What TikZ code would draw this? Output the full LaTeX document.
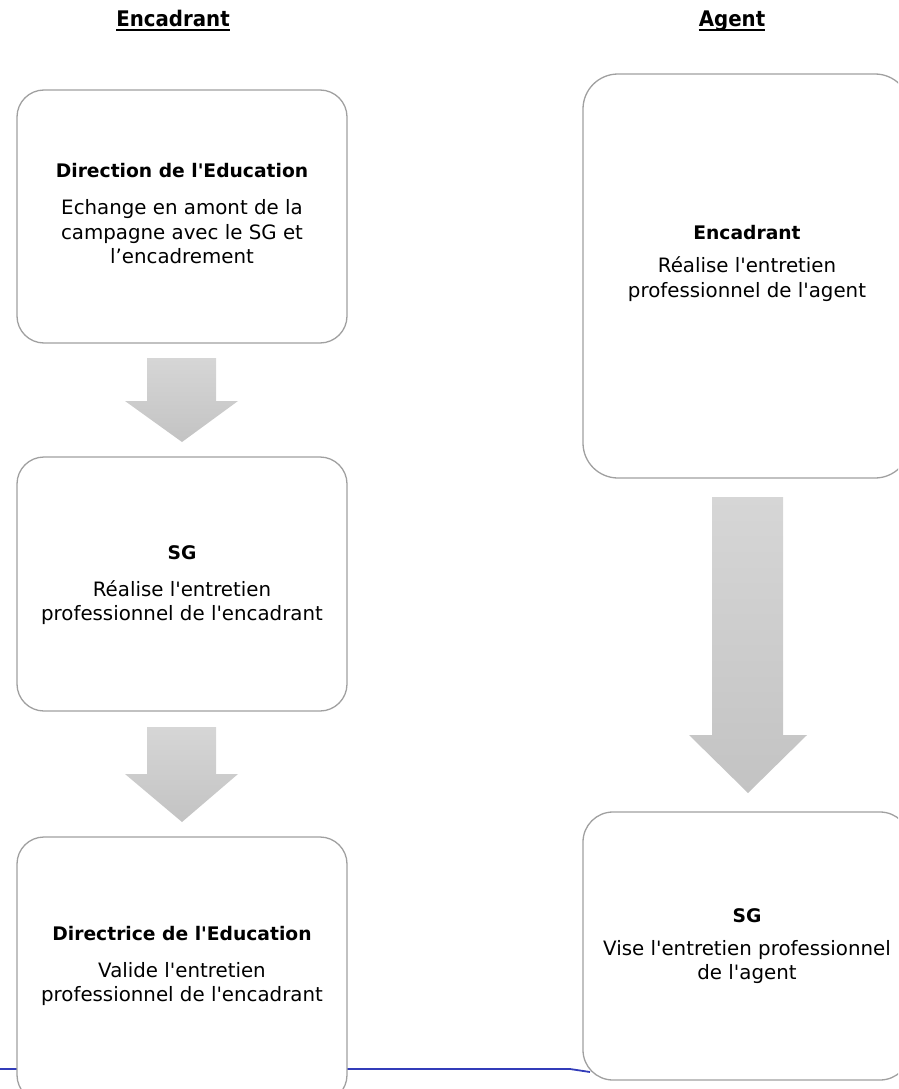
\documentclass[tikz,border=0pt]{standalone}
\usepackage{fontspec}
\setmainfont{DejaVu Sans}[Ligatures=TeXOff]
\newfontfamily\hdrfont{DejaVu Sans}[FakeStretch=0.92, Ligatures=TeXOff]
\definecolor{boxline}{RGB}{160,160,160}
\definecolor{arrtop}{RGB}{214,214,214}
\definecolor{arrbot}{RGB}{195,195,195}
\definecolor{footblue}{RGB}{50,60,185}
\newcommand\ttl[1]{{\fontsize{18.7}{24.5}\selectfont\bfseries #1}}
\begin{document}
\begin{tikzpicture}[x=1pt,y=-1pt,
  stepbox/.style={draw=boxline, line width=1.3pt, fill=white, inner sep=0pt, outer sep=0pt, anchor=north west},
  txt/.style={align=center, inner sep=0pt, font=\fontsize{19.8}{24.5}\selectfont, text=black},
  hdr/.style={inner sep=0pt, anchor=base, font=\hdrfont\fontsize{21.5}{24}\selectfont\bfseries},
  blockarrow/.style={top color=arrtop, bottom color=arrbot, draw=none}]
\useasboundingbox (0,0) rectangle (898,1089);
\clip (0,0) rectangle (898,1089);
% footer line
\draw[footblue, line width=1.8pt] (-5,1069) -- (570,1069) -- (590,1072);
% headers
\node[hdr] (h1) at (173,27) {Encadrant};
\node[hdr] (h2) at (732,27) {Agent};
\draw[line width=1.6pt] ([yshift=-3pt]h1.base west) -- ([yshift=-3pt]h1.base east);
\draw[line width=1.6pt] ([yshift=-3pt]h2.base west) -- ([yshift=-3pt]h2.base east);
% boxes
\node[stepbox, rounded corners=27pt, minimum width=330pt, minimum height=253pt] (b1) at (17,90) {};
\node[stepbox, rounded corners=27pt, minimum width=330pt, minimum height=254pt] (b2) at (17,457) {};
\node[stepbox, rounded corners=27pt, minimum width=330pt, minimum height=265pt] (b3) at (17,837) {};
\node[stepbox, rounded corners=35pt, minimum width=327pt, minimum height=404pt] (r1) at (583,74) {};
\node[stepbox, rounded corners=30pt, minimum width=327pt, minimum height=268pt] (r2) at (583,812) {};
% texts
\node[txt] (t1) at (182,213.9) {\ttl{Direction de l'Education}\\[12.5pt]Echange en amont de la\\campagne avec le SG et\\l’encadrement};
\node[txt] (t2) at (182,585) {\ttl{SG}\\[12.5pt]Réalise l'entretien\\professionnel de l'encadrant};
\node[txt] (t3) at (182,965.7) {\ttl{Directrice de l'Education}\\[12.5pt]Valide l'entretien\\professionnel de l'encadrant};
\node[txt] (t4) at (747,263.7) {\ttl{Encadrant}\\[8.5pt]Réalise l'entretien\\professionnel de l'agent};
\node[txt] (t5) at (747,946) {\ttl{SG}\\[8.5pt]Vise l'entretien professionnel\\de l'agent};
% block arrows
\shade[blockarrow] (147,358) -- (216,358) -- (216,401) -- (238,401) -- (182,442) -- (125,401) -- (147,401) -- cycle;
\shade[blockarrow] (147,727) -- (216,727) -- (216,774) -- (238,774) -- (182,822) -- (125,774) -- (147,774) -- cycle;
\shade[blockarrow] (712,497) -- (783,497) -- (783,735) -- (807,735) -- (748,793) -- (689,735) -- (712,735) -- cycle;
\end{tikzpicture}
\end{document}
